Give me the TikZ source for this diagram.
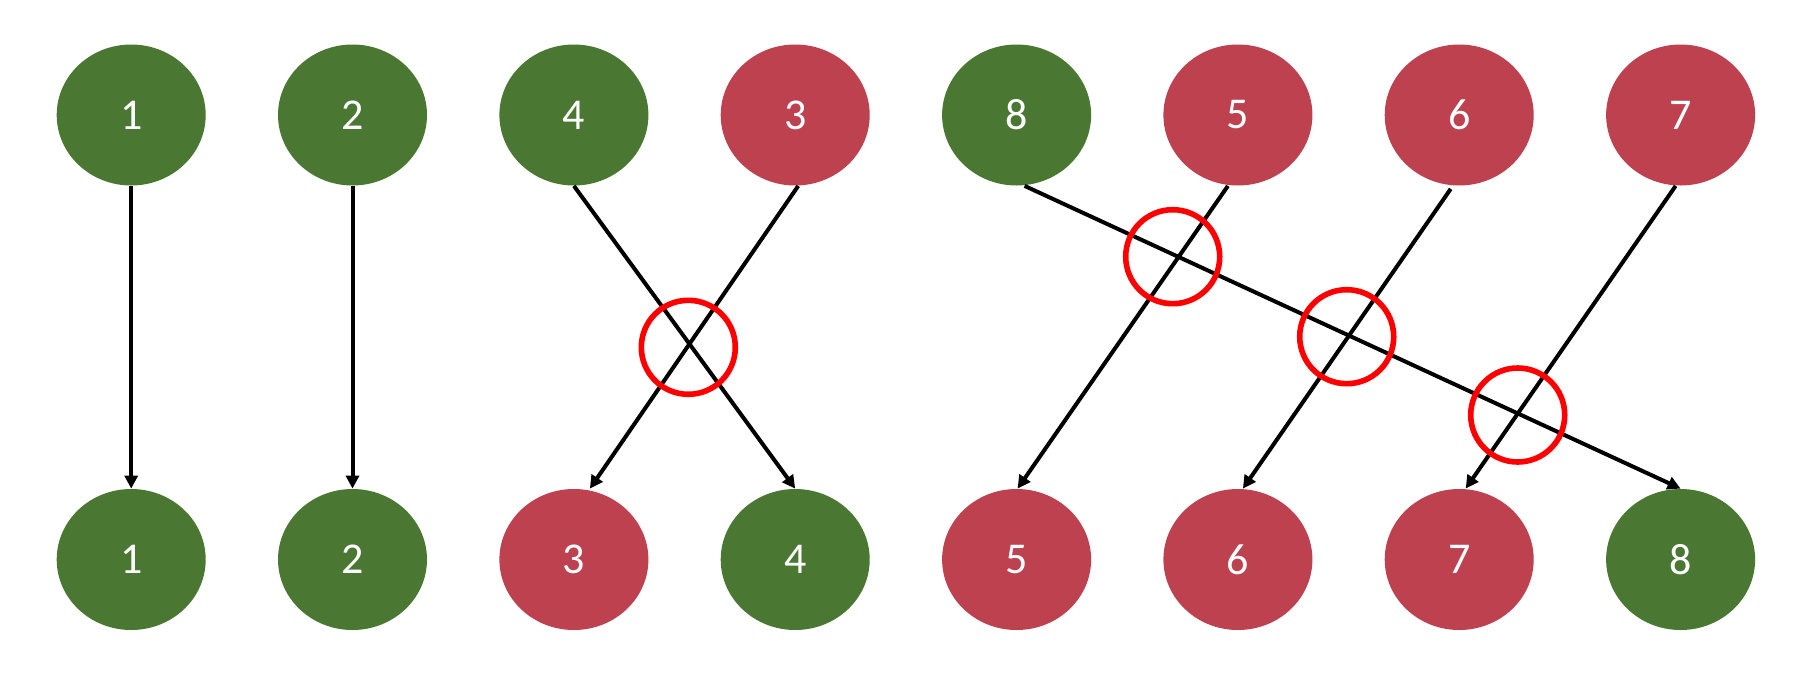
\documentclass[tikz,border=0pt]{standalone}
\usepackage{fontspec}
\setmainfont{Carlito}
\usetikzlibrary{arrows.meta,shapes.geometric}
\definecolor{nodegreen}{HTML}{4A7731}
\definecolor{nodered}{HTML}{BE4150}
\definecolor{ringred}{HTML}{FF0000}
\tikzset{
  ball/.style={ellipse, minimum width=74.5pt, minimum height=70.5pt, inner sep=0pt,
    text=white, font=\fontsize{22pt}{26pt}\selectfont},
  gball/.style={ball, fill=nodegreen},
  rball/.style={ball, fill=nodered},
  conn/.style={draw=black, line width=2pt, -{Triangle[width=6.5pt,length=6.5pt]}},
  ring/.style={circle, draw=ringred, line width=2.8pt, minimum size=47pt, inner sep=0pt}
}
\begin{document}
\begin{tikzpicture}[x=0.5pt,y=-0.5pt]
\useasboundingbox (0,0) rectangle (1818,680);
% top row
\node[gball] (t1) at (131.2,115) {1};
\node[gball] (t2) at (352.5,115) {2};
\node[gball] (t4) at (573.9,115) {4};
\node[rball] (t3) at (795.2,115) {3};
\node[gball] (t8) at (1016.6,115) {8};
\node[rball] (t5) at (1237.9,115) {5};
\node[rball] (t6) at (1459.2,115) {6};
\node[rball] (t7) at (1680.6,115) {7};
% bottom row
\node[gball] (b1) at (131.2,559.5) {1};
\node[gball] (b2) at (352.5,559.5) {2};
\node[rball] (b3) at (573.9,559.5) {3};
\node[gball] (b4) at (795.2,559.5) {4};
\node[rball] (b5) at (1016.6,559.5) {5};
\node[rball] (b6) at (1237.9,559.5) {6};
\node[rball] (b7) at (1459.2,559.5) {7};
\node[gball] (b8) at (1680.6,559.5) {8};
% connectors
\draw[conn] (t1.south) -- (b1.north);
\draw[conn] (t2.south) -- (b2.north);
\draw[conn] (t4.south) -- (b4.north);
\draw[conn] ([xshift=1.5pt]t3.south) -- ([xshift=8pt]b3.north);
\draw[conn] ([xshift=4pt]t8.south) -- (b8.north);
\draw[conn] ([xshift=-5pt]t5.south) -- ([xshift=0.5pt]b5.north);
\draw[conn] ([xshift=-4.25pt,yshift=-1.5pt]t6.south) -- ([xshift=2.5pt]b6.north);
\draw[conn] ([xshift=-2.5pt]t7.south) -- ([xshift=3.25pt]b7.north);
% rings
\node[ring] (c1) at (688.3,347.3) {};
\node[ring] (c2) at (1172.7,256.7) {};
\node[ring] (c3) at (1346.7,336.7) {};
\node[ring] (c4) at (1517.7,415) {};
\end{tikzpicture}
\end{document}
